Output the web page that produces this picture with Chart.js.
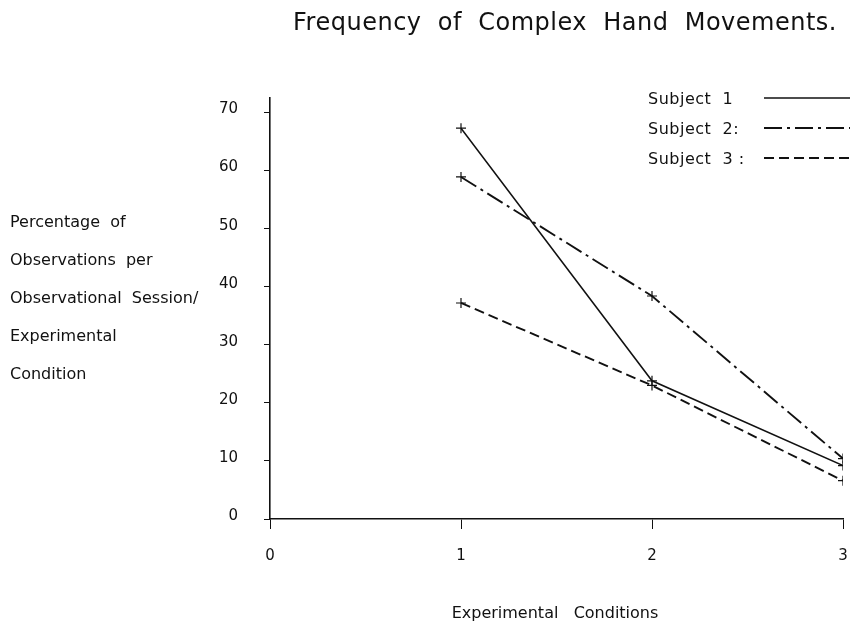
<!DOCTYPE html>
<html>
<head>
<meta charset="utf-8">
<title>Frequency of Complex Hand Movements</title>
<script src="https://cdn.jsdelivr.net/npm/chart.js@4.4.1/dist/chart.umd.min.js"></script>
<style>
  html, body { margin: 0; padding: 0; background: #fff; overflow: hidden; }
  #wrap { width: 858px; height: 624px; position: relative; }
</style>
</head>
<body>
<div id="wrap"><canvas id="chart"></canvas></div>
<script>
const conditions = [1, 2, 3];
const subject1 = [67.3, 23.8, 9.2];
const subject2 = [58.9, 38.4, 10.4];
const subject3 = [37.2, 23.0, 6.6];
const yTicks = [0, 10, 20, 30, 40, 50, 60, 70];
const xTicks = [0, 1, 2, 3];
const seriesNames = ["Subject  1", "Subject  2:", "Subject  3 :"];
const chartTitle = "Frequency  of  Complex  Hand  Movements.";
const xTitle = "Experimental   Conditions";
const yTitleLines = ["Percentage  of", "Observations  per", "Observational  Session/", "Experimental", "Condition"];

const FONT = "'DejaVu Sans', sans-serif";
const dashes = [[], [18, 5, 3, 5], [10, 5]];

function toPoints(values) {
  return conditions.map((c, i) => ({ x: c, y: values[i] }));
}

function makeSet(label, values, i) {
  return {
    label: label,
    data: toPoints(values),
    showLine: true,
    borderColor: "#111",
    borderWidth: i === 0 ? 1.5 : 1.9,
    borderDash: dashes[i],
    tension: 0,
    pointStyle: "cross",
    pointRadius: 5,
    pointBorderWidth: 1.2,
    pointBorderColor: "#111",
    pointBackgroundColor: "#111",
  };
}

// Draw title, left label block and legend
const textPlugin = {
  id: "texts",
  afterDraw(chart) {
    const ctx = chart.ctx;
    ctx.save();
    ctx.fillStyle = "#111";
    ctx.textBaseline = "middle";

    ctx.letterSpacing = "0.5px";
    ctx.font = "24px " + FONT;
    ctx.textAlign = "center";
    ctx.fillText(chartTitle, 565, 24);

    ctx.letterSpacing = "0px";
    ctx.font = "16px " + FONT;
    ctx.fillText(xTitle, 555, 614);

    ctx.textAlign = "left";
    yTitleLines.forEach((line, i) => {
      ctx.fillText(line, 10, 223 + i * 38);
    });

    // legend
    ctx.letterSpacing = "0.5px";
    seriesNames.forEach((name, i) => {
      const y = 100 + i * 30;
      ctx.fillText(name, 648, y);
      ctx.beginPath();
      ctx.setLineDash(dashes[i]);
      ctx.lineWidth = i === 0 ? 1.5 : 1.9;
      ctx.strokeStyle = "#111";
      ctx.moveTo(764, y - 2);
      ctx.lineTo(850, y - 2);
      ctx.stroke();
    });
    ctx.restore();
  }
};

const ctx = document.getElementById("chart").getContext("2d");
new Chart(ctx, {
  type: "scatter",
  data: {
    datasets: [
      makeSet(seriesNames[0], subject1, 0),
      makeSet(seriesNames[1], subject2, 1),
      makeSet(seriesNames[2], subject3, 2),
    ],
  },
  options: {
    responsive: true,
    maintainAspectRatio: false,
    animation: false,
    layout: { padding: { top: 98, right: 15, left: 0, bottom: 0 } },
    plugins: {
      legend: { display: false },
      tooltip: { enabled: false },
    },
    scales: {
      x: {
        type: "linear",
        min: 0,
        max: 3,
        afterBuildTicks: (scale) => { scale.ticks = xTicks.map(v => ({ value: v })); },
        afterFit: (scale) => {
          scale.height = 105;
          scale.paddingLeft = 0;
          scale.paddingRight = 0;
        },
        ticks: { color: "#111", font: { family: FONT, size: 15 }, padding: 18 },
        grid: { drawOnChartArea: false, tickLength: 10, color: "#111" },
        border: { color: "#111", width: 1.6 },
      },
      y: {
        min: 0,
        max: 72.5,
        afterBuildTicks: (scale) => { scale.ticks = yTicks.map(v => ({ value: v })); },
        afterFit: (scale) => { scale.width = 270; },
        ticks: { color: "#111", font: { family: FONT, size: 15 }, padding: 26, labelOffset: -3 },
        grid: { drawOnChartArea: false, tickLength: 6, color: "#111" },
        border: { color: "#111", width: 1.6 },
      },
    },
  },
  plugins: [textPlugin],
});
</script>
</body>
</html>
